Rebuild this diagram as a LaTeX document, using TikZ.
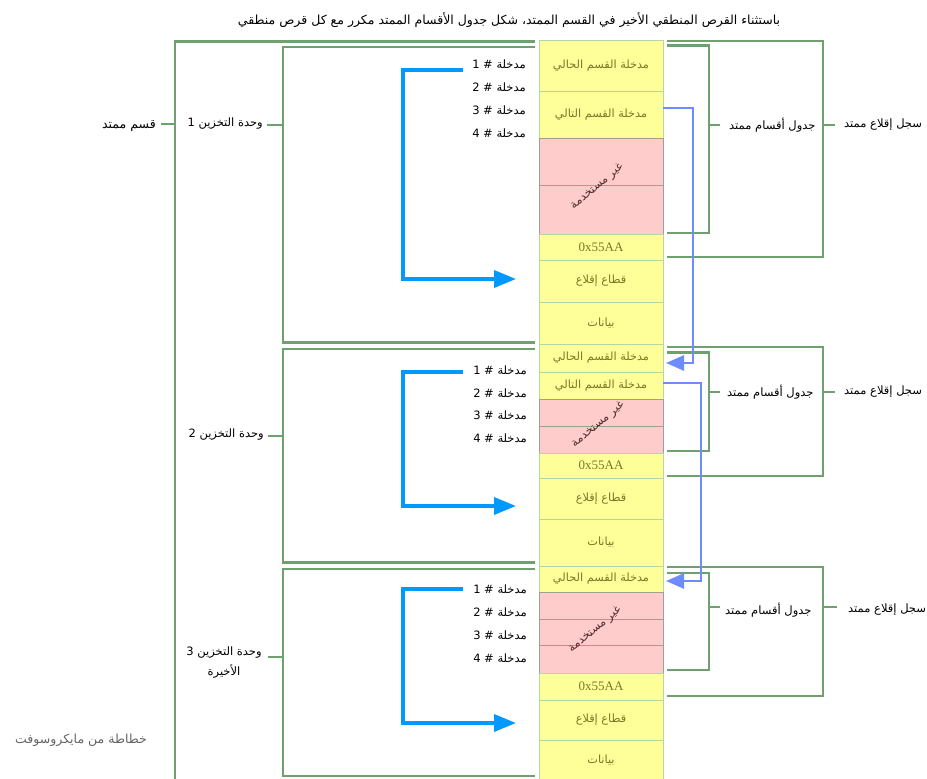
\documentclass[tikz,border=0pt]{standalone}
\usepackage{fontspec}
\setmainfont{Liberation Serif}
\newfontfamily\arfont[Script=Arabic]{DejaVu Sans}
\TeXXeTstate=1
\usetikzlibrary{arrows.meta}
\definecolor{yfill}{HTML}{FFFF99}
\definecolor{yedge}{HTML}{B4D8A4}
\definecolor{pfill}{HTML}{FFCCCC}
\definecolor{pedge}{HTML}{A0A090}
\definecolor{ytext}{RGB}{120,120,40}
\definecolor{grn}{RGB}{112,160,112}
\definecolor{blu}{RGB}{0,153,255}
\definecolor{peri}{RGB}{110,140,255}
\definecolor{utext}{RGB}{80,45,45}
\newcommand{\artxt}[1]{{\arfont\beginR #1\endR}}
\tikzset{
  blk/.style={draw=yedge, fill=yfill, line width=0.9pt, minimum width=124pt, inner sep=0pt,
              text=ytext, font=\arfont\fontsize{11.3}{13}\selectfont},
  pblk/.style={blk, draw=pedge, fill=pfill},
  sig/.style={blk, font=\fontsize{13}{15}\selectfont},
  brk/.style={draw=grn, line width=2.6pt},
  lbl/.style={inner sep=0pt, font=\arfont\fontsize{11.5}{14}\selectfont},
  entry/.style={lbl, anchor=east},
  barr/.style={draw=blu, line width=3.5pt, -{Triangle[length=22pt,width=17pt]}},
  parr/.style={draw=peri, line width=2.6pt, -{Triangle[length=18pt,width=15pt]}},
  unused/.style={inner sep=0pt, text=utext, rotate=40, font=\arfont\fontsize{11.5}{13}\selectfont},
}
\begin{document}
\begin{tikzpicture}[x=1pt,y=-1pt]
\useasboundingbox (0,0) rectangle (927,779);
\fill[white] (0,0) rectangle (927,779);

% title
\node[lbl, font=\arfont\fontsize{12.5}{15}\selectfont] (title) at (509,20) {\artxt{باستثناء القرص المنطقي الأخير في القسم الممتد، شكل جدول الأقسام الممتد مكرر مع كل قرص منطقي}};

% ---------- column of blocks ----------
% section 1
\node[blk, minimum height=51pt] (s1cur) at (601,65.5) {\artxt{مدخلة القسم الحالي}};
\node[blk, minimum height=47pt] (s1nxt) at (601,114.5) {\artxt{مدخلة القسم التالي}};
\node[pblk, minimum height=47pt] (s1u1) at (601,161.5) {};
\node[pblk, minimum height=49pt] (s1u2) at (601,209.5) {};
\node[sig, minimum height=26pt] (s1sig) at (601,247) {0x55AA};
\node[blk, minimum height=42pt] (s1boot) at (601,281) {\artxt{قطاع إقلاع}};
\node[blk, minimum height=42pt] (s1data) at (601,323) {\artxt{بيانات}};
\node[unused] (s1un) at (597,187) {\artxt{غير مستخدمة}};
% section 2
\node[blk, minimum height=28pt] (s2cur) at (601,358) {\artxt{مدخلة القسم الحالي}};
\node[blk, minimum height=27pt] (s2nxt) at (601,385.5) {\artxt{مدخلة القسم التالي}};
\node[pblk, minimum height=27pt] (s2u1) at (601,412.5) {};
\node[pblk, minimum height=27pt] (s2u2) at (601,439.5) {};
\node[sig, minimum height=25pt] (s2sig) at (601,465.5) {0x55AA};
\node[blk, minimum height=41pt] (s2boot) at (601,498.5) {\artxt{قطاع إقلاع}};
\node[blk, minimum height=47pt] (s2data) at (601,542.5) {\artxt{بيانات}};
\node[unused] (s2un) at (598,425) {\artxt{غير مستخدمة}};
% section 3
\node[blk, minimum height=26pt] (s3cur) at (601,579) {\artxt{مدخلة القسم الحالي}};
\node[pblk, minimum height=27pt] (s3u1) at (601,605.5) {};
\node[pblk, minimum height=26pt] (s3u2) at (601,632) {};
\node[pblk, minimum height=28pt] (s3u3) at (601,659) {};
\node[sig, minimum height=27pt] (s3sig) at (601,686.5) {0x55AA};
\node[blk, minimum height=40pt] (s3boot) at (601,720) {\artxt{قطاع إقلاع}};
\node[blk, minimum height=41pt] (s3data) at (601,760.5) {\artxt{بيانات}};
\node[unused] (s3un) at (595,630) {\artxt{غير مستخدمة}};

% ---------- entry labels ----------
\node[entry] (s1e1) at (526,64) {\artxt{مدخلة \# 1}};
\node[entry] (s1e2) at (526,87) {\artxt{مدخلة \# 2}};
\node[entry] (s1e3) at (526,110) {\artxt{مدخلة \# 3}};
\node[entry] (s1e4) at (526,133) {\artxt{مدخلة \# 4}};
\node[entry] (s2e1) at (527,370) {\artxt{مدخلة \# 1}};
\node[entry] (s2e2) at (527,393) {\artxt{مدخلة \# 2}};
\node[entry] (s2e3) at (527,415) {\artxt{مدخلة \# 3}};
\node[entry] (s2e4) at (527,438) {\artxt{مدخلة \# 4}};
\node[entry] (s3e1) at (527,589) {\artxt{مدخلة \# 1}};
\node[entry] (s3e2) at (527,612) {\artxt{مدخلة \# 2}};
\node[entry] (s3e3) at (527,635) {\artxt{مدخلة \# 3}};
\node[entry] (s3e4) at (527,658) {\artxt{مدخلة \# 4}};

% ---------- left labels ----------
\node[lbl, anchor=east, font=\arfont\fontsize{12.5}{15}\selectfont] (ext) at (156,126) {\artxt{قسم ممتد}};
\node[lbl, anchor=east] (u1) at (263,124) {\artxt{وحدة التخزين 1}};
\node[lbl, anchor=east] (u2) at (264,435) {\artxt{وحدة التخزين  2}};
\node[lbl, anchor=north, align=center, font=\arfont\fontsize{11.5}{20}\selectfont] (u3) at (224,647) {\artxt{وحدة التخزين  3}\\\artxt{الأخيرة}};
\node[lbl, anchor=east, text=black!60, font=\arfont\fontsize{12.5}{15}\selectfont] (credit) at (147,740) {\artxt{خطاطة من مايكروسوفت}};

% ---------- right labels ----------
\node[lbl, anchor=west] (ept1) at (729,125) {\artxt{جدول أقسام ممتد}};
\node[lbl, anchor=west] (ebr1) at (844,125) {\artxt{سجل إقلاع ممتد}};
\node[lbl, anchor=west] (ept2) at (727,392) {\artxt{جدول أقسام ممتد}};
\node[lbl, anchor=west] (ebr2) at (844,392) {\artxt{سجل إقلاع ممتد}};
\node[lbl, anchor=west] (ept3) at (725,610) {\artxt{جدول أقسام ممتد}};
\node[lbl, anchor=west] (ebr3) at (848,610) {\artxt{سجل إقلاع ممتد}};

% ---------- left brackets ----------
\draw[brk] (535,41.5) -- (175,41.5) -- (175,790);
\draw[brk] (175,124) -- (161,124);
\draw[brk] (535,47) -- (283,47) -- (283,342.5) -- (535,342.5);
\draw[brk] (283,125) -- (267,125);
\draw[brk] (535,349) -- (283,349) -- (283,562.5) -- (535,562.5);
\draw[brk] (283,436) -- (268,436);
\draw[brk] (535,569) -- (283,569) -- (283,776) -- (535,776);
\draw[brk] (283,657) -- (268,657);

% ---------- right brackets ----------
\draw[brk] (667,41) -- (823,41) -- (823,257) -- (667,257);
\draw[brk] (823,125) -- (835,125);
\draw[brk] (667,45.5) -- (709,45.5) -- (709,233) -- (667,233);
\draw[brk] (709,125) -- (720,125);
\draw[brk] (667,347) -- (823,347) -- (823,476) -- (667,476);
\draw[brk] (823,392) -- (835,392);
\draw[brk] (667,352.5) -- (709,352.5) -- (709,451) -- (667,451);
\draw[brk] (709,392) -- (720,392);
\draw[brk] (667,567) -- (823,567) -- (823,696) -- (667,696);
\draw[brk] (823,607) -- (837,607);
\draw[brk] (667,573) -- (709,573) -- (709,670) -- (667,670);
\draw[brk] (709,607) -- (720,607);

% ---------- blue arrows (entry -> boot sector) ----------
\coordinate (b1) at (516,279);
\coordinate (b2) at (516,506);
\coordinate (b3) at (516,723);
\draw[barr] (463,70) -- (403,70) |- (b1);
\draw[barr] (463,372) -- (403,372) |- (b2);
\draw[barr] (463,589) -- (403,589) |- (b3);

% ---------- periwinkle arrows (next -> current) ----------
\coordinate (p1) at (666,363);
\coordinate (p2) at (666,581);
\draw[parr] (663,108) -- (693,108) |- (p1);
\draw[parr] (663,383) -- (701,383) |- (p2);
\end{tikzpicture}
\end{document}
